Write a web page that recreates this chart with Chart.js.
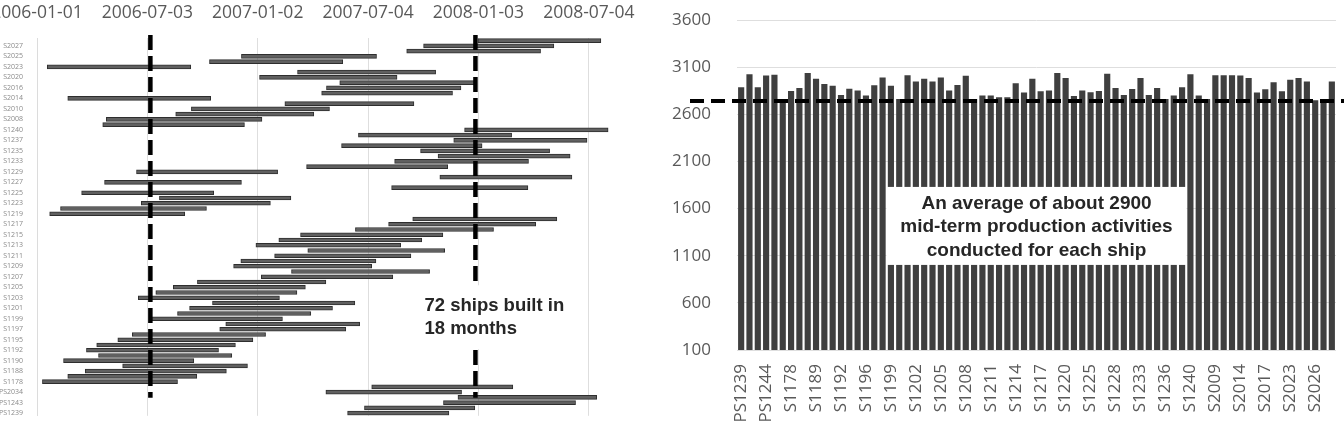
<!DOCTYPE html>
<html><head><meta charset="utf-8">
<script src="https://cdn.jsdelivr.net/npm/chart.js@4.4.1/dist/chart.umd.min.js"></script>
<style>
html,body{margin:0;padding:0;background:#fff;overflow:hidden;width:1344px;height:426px;position:relative}
#wl{position:absolute;left:-9px;top:0;width:660px;height:426px}
#wr{position:absolute;left:664px;top:0;width:680px;height:426px}
</style></head><body>
<div id="wl"><canvas id="cl"></canvas></div>
<div id="wr"><canvas id="cr"></canvas></div>
<script>
// Ships (index 0 = bottom row of the schedule, first bar of the activity chart)
const ships = ['PS1239','PS1240','PS1243','PS1244','PS2034','PS2035','S1178','S1187','S1188','S1189',
  'S1190','S1191','S1192','S1194','S1195','S1196','S1197','S1198','S1199','S1200',
  'S1201','S1202','S1203','S1204','S1205','S1206','S1207','S1208','S1209','S1210',
  'S1211','S1212','S1213','S1214','S1215','S1216','S1217','S1218','S1219','S1220',
  'S1223','S1224','S1225','S1226','S1227','S1228','S1229','S1231','S1233','S1234',
  'S1235','S1236','S1237','S1238','S1240','S2007','S2008','S2009','S2010','S2012',
  'S2014','S2015','S2016','S2017','S2020','S2022','S2023','S2024','S2025','S2026',
  'S2027','S2028'];

// Left panel: construction period, in days since 2006-01-01
const startDay = [515,543,674,698,479,555,9,51,80,142,
  44,102,82,99,134,158,303,313,190,233,
  253,291,168,197,226,266,372,422,326,338,
  394,449,363,401,437,528,583,623,21,39,
  173,203,74,588,112,668,165,447,593,665,
  636,505,691,533,709,109,115,230,256,411,
  51,472,480,502,369,432,17,286,339,613,
  641,731];
const endDay = [683,726,893,928,704,789,233,265,314,349,
  260,323,301,329,358,379,512,535,407,454,
  490,527,402,431,445,479,590,651,555,562,
  620,676,603,638,673,757,827,862,245,281,
  387,421,293,814,339,887,399,681,815,884,
  850,738,912,787,947,344,373,459,485,625,
  288,689,703,729,597,661,255,507,563,835,
  857,935];
const dateTicks = [0,183,366,549,732,915];
const markerDays = [188,727];
const ganttNote = ['72 ships built in','18 months'];

// Right panel: mid-term production activities per ship
const activities = [2887,3025,2887,3011,3020,2755,2848,2878,3039,2976,
  2922,2902,2805,2872,2851,2798,2908,2990,2902,2763,
  3015,2949,2976,2949,2990,2851,2910,3008,2763,2798,
  2800,2780,2780,2928,2830,2976,2843,2851,3039,2986,
  2795,2851,2834,2848,3030,2880,2805,2869,2986,2805,
  2878,2763,2800,2887,3025,2798,2763,3015,3015,3015,
  3011,2986,2830,2865,2940,2843,2965,2986,2947,2750,
  2750,2947];
const avgLine = 2742;
const yTicks = [100,600,1100,1600,2100,2600,3100,3600];
const barNote = ['An average of about 2900','mid-term production activities','conducted for each ship'];

const BASE = Date.UTC(2006,0,1);
const fmtDay = d => new Date(BASE + d*86400000).toISOString().slice(0,10);
Chart.defaults.font.family = "'Open Sans', sans-serif";

const ganttMarkers = {
  id:'ganttMarkers',
  afterDatasetsDraw(chart){
    const {ctx, chartArea:a, scales:{x}} = chart;
    ctx.save();
    ctx.strokeStyle = '#000'; ctx.lineWidth = 4.5; ctx.setLineDash([15,6]);
    markerDays.forEach(d => {
      const px = x.getPixelForValue(d);
      ctx.beginPath(); ctx.moveTo(px, a.top - 3); ctx.lineTo(px, a.bottom - 18); ctx.stroke();
    });
    ctx.setLineDash([]);
    const px = x.getPixelForValue(markerDays[1]);
    const tx = px - 51, ty = a.top + 0.71*(a.bottom - a.top);
    ctx.font = "bold 18.5px 'Liberation Sans', Arial, sans-serif";
    const w = Math.max(...ganttNote.map(t => ctx.measureText(t).width));
    ctx.fillStyle = '#fff';
    ctx.fillRect(tx - 8, ty - 21, w + 16, 64);
    ctx.fillStyle = '#262626'; ctx.textAlign = 'left'; ctx.textBaseline = 'middle';
    ganttNote.forEach((t,i) => ctx.fillText(t, tx, ty + i*23));
    ctx.restore();
  }
};

new Chart(document.getElementById('cl'), {
  type:'bar',
  data:{labels:ships, datasets:[{
    data: ships.map((s,i) => [startDay[i], endDay[i]]),
    backgroundColor:'#606060', borderColor:'#2e2e2e', borderWidth:1, borderSkipped:false, barThickness:4
  }]},
  options:{
    indexAxis:'y', responsive:true, maintainAspectRatio:false, animation:false,
    layout:{padding:{top:0,bottom:7,left:0,right:26}},
    plugins:{legend:{display:false}, tooltip:{enabled:false}},
    scales:{
      x:{type:'linear', position:'top', min:0, max:975,
        afterBuildTicks: s => { s.ticks = dateTicks.map(v => ({value:v})); },
        afterFit: s => { s.height = 38; s.paddingLeft = 0; s.paddingRight = 0; },
        grid:{color:'#dedede', drawTicks:false}, border:{display:false},
        ticks:{padding:14, color:'#595959', font:{size:17.5}, maxRotation:0, autoSkip:false, callback: v => fmtDay(v)}},
      y:{type:'category', reverse:true, grid:{display:false}, border:{display:true, color:'#dcdcdc'},
        afterFit: s => { s.width = 46; },
        ticks:{autoSkip:false, padding:6, color:'#8a8a8a', font:{size:7}, callback:(v,i) => i%2===0 ? ships[i] : ''}}
    }
  },
  plugins:[ganttMarkers]
});

const avgPlugin = {
  id:'avgPlugin',
  afterDatasetsDraw(chart){
    const {ctx, chartArea:a, scales:{y}} = chart;
    const py = y.getPixelForValue(avgLine);
    ctx.save();
    ctx.strokeStyle = '#000'; ctx.lineWidth = 4; ctx.setLineDash([14,7]);
    ctx.beginPath(); ctx.moveTo(a.left - 47, py); ctx.lineTo(chart.width, py); ctx.stroke();
    ctx.setLineDash([]);
    const cx = (a.left + a.right)/2, cy = a.top + 0.624*(a.bottom - a.top);
    ctx.fillStyle = '#fff';
    ctx.fillRect(cx - 150, cy - 39, 300, 78);
    ctx.font = "bold 19px 'Liberation Sans', Arial, sans-serif";
    ctx.fillStyle = '#262626'; ctx.textAlign = 'center'; ctx.textBaseline = 'middle';
    barNote.forEach((t,i) => ctx.fillText(t, cx, cy + 1 + (i-1)*23.5));
    ctx.restore();
  }
};

new Chart(document.getElementById('cr'), {
  type:'bar',
  data:{labels:ships, datasets:[{data:activities, backgroundColor:'#3f3f3f', barPercentage:0.74, categoryPercentage:1}]},
  options:{
    responsive:true, maintainAspectRatio:false, animation:false,
    layout:{padding:{top:20,bottom:0,left:0,right:8}},
    plugins:{legend:{display:false}, tooltip:{enabled:false}},
    scales:{
      x:{grid:{display:false, drawTicks:false}, border:{display:false},
        afterFit: s => { s.height = 76; s.paddingLeft = 0; s.paddingRight = 0; },
        ticks:{autoSkip:false, minRotation:90, maxRotation:90, padding:14, color:'#595959', font:{size:17},
          callback:(v,i) => i%3===0 ? ships[i] : ''}},
      y:{min:100, max:3600,
        afterBuildTicks: s => { s.ticks = yTicks.map(v => ({value:v})); },
        afterFit: s => { s.width = 73; s.paddingTop = 0; s.paddingBottom = 0; },
        grid:{color:'#dedede', drawTicks:false}, border:{display:false},
        ticks:{padding:26, color:'#595959', font:{size:17}, callback: v => String(v)}}
    }
  },
  plugins:[avgPlugin]
});
</script>
</body></html>
